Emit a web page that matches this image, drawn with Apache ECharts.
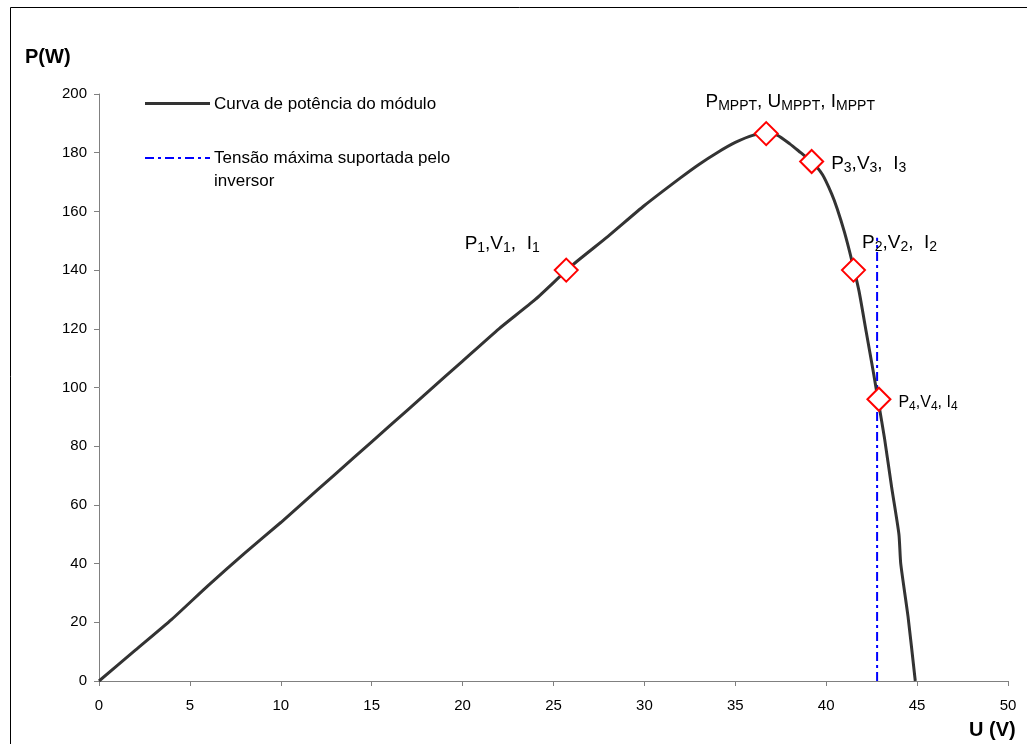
<!DOCTYPE html>
<html><head><meta charset="utf-8">
<script src="https://cdn.jsdelivr.net/npm/echarts@6/dist/echarts.min.js"></script>
<style>html,body{margin:0;padding:0;background:#fff}#c{width:1027px;height:744px}</style>
</head><body><div id="c"></div>
<script>
// Module power curve P(U)
const voltage = [0, 2, 4, 6, 8, 10, 12, 14, 16, 18, 20, 22, 24, 26, 28, 30, 32, 33, 34, 35, 36, 36.7, 37.3, 38, 38.6, 39.2, 39.8, 40.3, 40.6, 41, 41.4, 41.8, 42.2, 42.6, 42.9, 43.2, 43.6, 44.0, 44.1, 44.5, 44.9];
const power   = [0, 10.5, 21, 32.5, 43.5, 54, 65, 76, 87, 98, 109, 120, 130, 141.5, 151.5, 162, 171.5, 176, 180, 183.5, 186, 186.5, 186, 183, 180, 177, 172.5, 166, 161, 153, 143.5, 133, 119, 105, 94, 83, 66, 50, 40, 22, 0];
// Marked operating points
const pointU = [25.7, 36.7, 39.2, 41.5, 42.9];
const pointP = [140, 186.5, 177, 140, 96];
const pointLabels = [
  [['P', '1'], [',V', '1'], [',  I', '1']],
  [['P', 'MPPT'], [', U', 'MPPT'], [', I', 'MPPT']],
  [['P', '3'], [',V', '3'], [',  I', '3']],
  [['P', '2'], [',V', '2'], [',  I', '2']],
  [['P', '4'], [',V', '4'], [', I', '4']]
];
// Inverter maximum voltage line
const inverterU = 42.8;
const inverterLine = [0, 151];
// Axes
const xMin = 0, xMax = 50, xStep = 5;
const yMin = 0, yMax = 200, yStep = 20;
const legendNames = ['Curva de potência do módulo', 'Tensão máxima suportada pelo', 'inversor'];
const axisTitles = ['P(W)', 'U (V)'];

const FONT = 'Liberation Sans, Arial, sans-serif';
const chart = echarts.init(document.getElementById('c'), null, {renderer: 'canvas'});

const placements = [
  {position: 'left', distance: 14, offset: [0, -26], big: true},
  {position: 'top', distance: 4, offset: [24, -4], big: true},
  {position: 'right', distance: 7, offset: [0, 2], big: true},
  {position: 'right', distance: 0, offset: [-4, -27], big: true},
  {position: 'right', distance: 7, offset: [0, 3], big: false}
];

function richText(parts, big) {
  const m = big ? 'm' : 'mm', s = big ? 's' : 'ss';
  return parts.map(p => '{' + m + '|' + p[0] + '}{' + s + '|' + p[1] + '}').join('');
}
const rich = {
  m: {fontSize: 19, fontFamily: FONT, color: '#000'},
  s: {fontSize: 14, fontFamily: FONT, color: '#000', padding: [9, 0, 0, 0]},
  mm: {fontSize: 16, fontFamily: FONT, color: '#000'},
  ss: {fontSize: 12, fontFamily: FONT, color: '#000', padding: [8, 0, 0, 0]}
};

const scatterData = pointU.map((u, i) => ({
  value: [u, pointP[i]],
  label: {
    show: true,
    position: placements[i].position,
    distance: placements[i].distance,
    offset: placements[i].offset,
    formatter: richText(pointLabels[i], placements[i].big),
    rich: rich
  }
}));

const option = {
  animation: false,
  backgroundColor: '#fff',
  grid: {left: 99, right: 19, top: 94, bottom: 63, containLabel: false},
  xAxis: {
    type: 'value', min: xMin, max: xMax, interval: xStep,
    axisLine: {show: true, lineStyle: {color: '#808080', width: 1}},
    axisTick: {show: true, inside: false, length: 5, lineStyle: {color: '#808080'}},
    axisLabel: {color: '#000', fontSize: 15, fontFamily: FONT, margin: 17},
    splitLine: {show: false}
  },
  yAxis: {
    type: 'value', min: yMin, max: yMax, interval: yStep,
    axisLine: {show: true, lineStyle: {color: '#808080', width: 1}},
    axisTick: {show: true, inside: false, length: 5, lineStyle: {color: '#808080'}},
    axisLabel: {color: '#000', fontSize: 15, fontFamily: FONT, margin: 12},
    splitLine: {show: false}
  },
  series: [
    {
      type: 'line', data: voltage.map((u, i) => [u, power[i]]),
      smooth: 0.2, showSymbol: false, symbol: 'none',
      lineStyle: {color: '#333', width: 3}, z: 2
    },
    {
      type: 'line', data: inverterLine.map(p => [inverterU, p]),
      showSymbol: false, symbol: 'none',
      lineStyle: {color: '#0000ff', width: 2, type: [9, 4, 3, 4]}, z: 1
    },
    {
      type: 'scatter', data: scatterData, symbol: 'diamond', symbolSize: 23,
      itemStyle: {color: '#fff', borderColor: '#ff0000', borderWidth: 2, opacity: 1}, z: 5
    }
  ],
  graphic: [
    {type: 'rect', shape: {x: 10.5, y: 7.5, width: 1100, height: 800}, style: {fill: 'none', stroke: '#000', lineWidth: 1}, silent: true},
    {type: 'text', left: 25, top: 47, style: {text: axisTitles[0], font: 'bold 20px ' + FONT, fill: '#000'}},
    {type: 'text', left: 969, top: 720, style: {text: axisTitles[1], font: 'bold 20px ' + FONT, fill: '#000'}},
    {type: 'line', shape: {x1: 145, y1: 103.5, x2: 210, y2: 103.5}, style: {stroke: '#333', lineWidth: 3}},
    {type: 'text', x: 214, y: 104, style: {text: legendNames[0], font: '17px ' + FONT, fill: '#000', verticalAlign: 'middle'}},
    {type: 'line', shape: {x1: 145, y1: 158, x2: 210, y2: 158}, style: {stroke: '#0000ff', lineWidth: 2, lineDash: [9, 4, 3, 4]}},
    {type: 'text', x: 214, y: 158, style: {text: legendNames[1], font: '17px ' + FONT, fill: '#000', verticalAlign: 'middle'}},
    {type: 'text', x: 214, y: 181, style: {text: legendNames[2], font: '17px ' + FONT, fill: '#000', verticalAlign: 'middle'}}
  ]
};
chart.setOption(option);
</script>
</body></html>
